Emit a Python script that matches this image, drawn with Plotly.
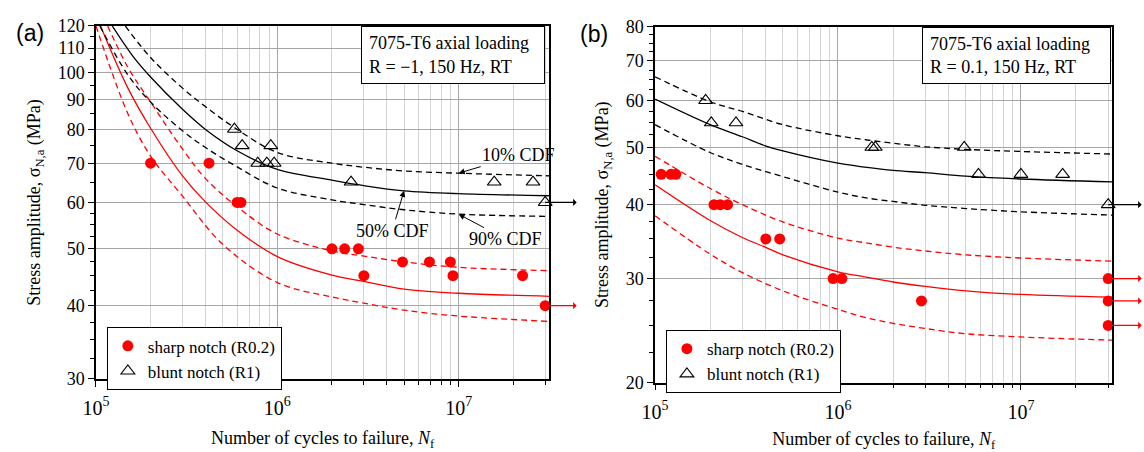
import numpy as np
import plotly.graph_objects as go

# ---------------- data: panel (a)  R = -1 ----------------
a_sharp_N = [2.0e5, 4.2e5, 6.0e5, 6.3e5, 2.0e6, 2.35e6, 2.8e6, 3.0e6, 4.9e6, 6.9e6, 9.0e6, 9.3e6, 2.25e7, 3.0e7]
a_sharp_S = [70, 70, 60, 60, 50, 50, 50, 45, 47.5, 47.5, 47.5, 45, 45, 40]
a_blunt_N = [5.8e5, 6.4e5, 7.8e5, 8.75e5, 9.2e5, 9.6e5, 2.55e6, 1.57e7, 2.57e7, 3.0e7]
a_blunt_S = [80, 75, 70, 70, 75, 70, 65, 65, 65, 60]
a_runout_sharp_S = [40]
a_runout_blunt_S = [60]

a_red50_N = [1.06e5, 1.5e5, 2e5, 3e5, 4e5, 6e5, 1e6, 2e6, 3e6, 5e6, 1e7, 3.2e7]
a_red50_S = [120, 94, 80.3, 66.6, 60.2, 53.8, 48.5, 45.1, 44.0, 42.7, 42.0, 41.5]
a_red10_N = [1.16e5, 1.5e5, 2e5, 3e5, 4e5, 6e5, 1e6, 2e6, 3e6, 5e6, 1e7, 3.2e7]
a_red10_S = [120, 102, 89, 74, 66, 59, 53.0, 49.6, 48.6, 47.5, 46.5, 45.9]
a_red90_N = [1.0e5, 1.5e5, 2e5, 3e5, 5e5, 1e6, 2e6, 3e6, 5e6, 1e7, 3.2e7]
a_red90_S = [120, 85, 72, 61.5, 50.9, 43.8, 41.4, 40.4, 39.3, 38.4, 37.6]

a_blk50_N = [1.23e5, 1.6e5, 2e5, 3e5, 4e5, 6e5, 1e6, 2e6, 3e6, 5e6, 1e7, 3.2e7]
a_blk50_S = [120, 106.5, 98.2, 86.5, 80.0, 73.5, 68.3, 65.5, 64.1, 62.8, 62.1, 61.6]
a_blk10_N = [1.45e5, 2e5, 3e5, 4e5, 5.8e5, 1e6, 2e6, 3e6, 5e6, 1e7, 3.2e7]
a_blk10_S = [120, 106, 94, 87.5, 80.5, 73.0, 70.0, 68.9, 67.9, 67.3, 66.6]
a_blk90_N = [1.05e5, 1.5e5, 2e5, 3e5, 4e5, 6e5, 1e6, 2e6, 3e6, 5e6, 1e7, 3.2e7]
a_blk90_S = [120, 99, 89, 79.5, 74.5, 69.0, 63.5, 60.6, 59.5, 58.3, 57.3, 56.8]

# ---------------- data: panel (b)  R = 0.1 ----------------
b_sharp_N = [1.08e5, 1.22e5, 1.30e5, 2.1e5, 2.27e5, 2.49e5, 4.03e5, 4.8e5, 9.4e5, 1.05e6, 2.86e6, 3e7, 3e7, 3e7]
b_sharp_S = [45, 45, 45, 40, 40, 40, 35, 35, 30, 30, 27.5, 30, 27.5, 25]
b_blunt_N = [1.89e5, 2.03e5, 2.77e5, 1.53e6, 1.6e6, 4.9e6, 5.86e6, 1.0e7, 1.69e7, 3e7]
b_blunt_S = [60, 55, 55, 50, 50, 50, 45, 45, 45, 40]
b_runout_sharp_S = [30, 27.5, 25]
b_runout_blunt_S = [40]

b_blk50_N = [1e5, 2e5, 3e5, 4e5, 5e5, 1e6, 1.4e6, 2e6, 3e6, 5e6, 1e7, 3.2e7]
b_blk50_S = [60.3, 54.6, 52.1, 50.3, 49.3, 47.0, 46.3, 45.7, 45.3, 44.7, 44.2, 43.7]
b_blk10_N = [1e5, 2e5, 3e5, 5e5, 1e6, 1.4e6, 2e6, 3e6, 5e6, 1e7, 3.2e7]
b_blk10_S = [65.8, 59.7, 57.5, 54.6, 52.3, 51.5, 50.8, 50.1, 49.6, 49.2, 48.7]
b_blk90_N = [1e5, 2e5, 3e5, 5e5, 1e6, 1.4e6, 2e6, 3e6, 5e6, 1e7, 3.2e7]
b_blk90_S = [54.6, 49.0, 46.8, 44.6, 42.0, 41.1, 40.5, 39.9, 39.4, 38.9, 38.4]
b_red50_N = [1e5, 2e5, 3e5, 4e5, 5e5, 1e6, 1.4e6, 2e6, 3e6, 5e6, 1e7, 3.2e7]
b_red50_S = [43.2, 37.6, 35.2, 33.9, 32.9, 30.8, 30.2, 29.6, 29.1, 28.6, 28.2, 27.9]
b_red10_N = [1e5, 2e5, 3e5, 5e5, 1e6, 1.4e6, 2e6, 3e6, 5e6, 1e7, 3.2e7]
b_red10_S = [48.3, 42.6, 40.0, 37.4, 35.1, 34.5, 33.9, 33.4, 32.9, 32.5, 32.1]
b_red90_N = [1e5, 2e5, 3e5, 5e5, 1e6, 1.4e6, 2e6, 3e6, 5e6, 1e7, 3.2e7]
b_red90_S = [38.3, 33.0, 30.7, 28.6, 26.6, 25.8, 25.2, 24.7, 24.2, 23.9, 23.6]

runout_N = 3e7

a_yticks = [30, 40, 50, 60, 70, 80, 90, 100, 110, 120]
a_yminor = [32.5, 35, 37.5, 42.5, 45, 47.5, 52.5, 55, 57.5, 65, 75, 85, 95, 105, 115]
b_yticks = [20, 30, 40, 50, 60, 70, 80]
b_yminor = [22.5, 25, 27.5, 32.5, 35, 37.5, 42.5, 45, 47.5, 52.5, 55, 57.5, 62.5, 65, 67.5, 72.5, 75, 77.5]

# ---------------- figure ----------------
W, H = 1144, 452
RED = '#ff0000'
SERIF = 'Liberation Serif, Times New Roman, serif'
DASH = '6px,4px'

fig = go.Figure()


def curve(N, S, color, dash, xa, ya):
    fig.add_trace(go.Scatter(x=N, y=S, mode='lines',
                             line=dict(color=color, width=1.3, dash=dash, shape='spline', smoothing=1.0),
                             xaxis=xa, yaxis=ya, showlegend=False, hoverinfo='skip'))


# panel a curves
curve(a_red10_N, a_red10_S, RED, DASH, 'x', 'y')
curve(a_red50_N, a_red50_S, RED, 'solid', 'x', 'y')
curve(a_red90_N, a_red90_S, RED, DASH, 'x', 'y')
curve(a_blk10_N, a_blk10_S, 'black', DASH, 'x', 'y')
curve(a_blk50_N, a_blk50_S, 'black', 'solid', 'x', 'y')
curve(a_blk90_N, a_blk90_S, 'black', DASH, 'x', 'y')
# panel b curves
curve(b_red10_N, b_red10_S, RED, DASH, 'x2', 'y2')
curve(b_red50_N, b_red50_S, RED, 'solid', 'x2', 'y2')
curve(b_red90_N, b_red90_S, RED, DASH, 'x2', 'y2')
curve(b_blk10_N, b_blk10_S, 'black', DASH, 'x2', 'y2')
curve(b_blk50_N, b_blk50_S, 'black', 'solid', 'x2', 'y2')
curve(b_blk90_N, b_blk90_S, 'black', DASH, 'x2', 'y2')

sharp_marker = dict(symbol='circle', size=11, color=RED, line=dict(width=0))
blunt_marker = dict(symbol='triangle-up-open', size=12, color='black', line=dict(width=1.1, color='black'))

fig.add_trace(go.Scatter(x=a_sharp_N, y=a_sharp_S, mode='markers', marker=sharp_marker,
                         name='sharp notch (R0.2)', xaxis='x', yaxis='y', cliponaxis=False, legend='legend'))
fig.add_trace(go.Scatter(x=a_blunt_N, y=a_blunt_S, mode='markers', marker=blunt_marker,
                         name='blunt notch (R1)', xaxis='x', yaxis='y', cliponaxis=False, legend='legend'))
fig.add_trace(go.Scatter(x=b_sharp_N, y=b_sharp_S, mode='markers', marker=sharp_marker,
                         name='sharp notch (R0.2)', xaxis='x2', yaxis='y2', cliponaxis=False, legend='legend2'))
fig.add_trace(go.Scatter(x=b_blunt_N, y=b_blunt_S, mode='markers', marker=blunt_marker,
                         name='blunt notch (R1)', xaxis='x2', yaxis='y2', cliponaxis=False, legend='legend2'))

# ---------------- axes ----------------
dom_ax = [83 / W, 542 / W]
dom_ay = [(H - 386) / H, (H - 16.7) / H]
dom_bx = [649 / W, 1112 / W]
dom_by = [(H - 390) / H, (H - 17.3) / H]

GRID = '#a6a6a6'
MINGRID = '#d4d4d4'


def xaxis(domain, anchor):
    return dict(type='log', range=[5, 7.5], domain=domain, anchor=anchor,
                showline=True, linecolor='black', linewidth=1.5, mirror=True,
                ticks='outside', ticklen=6, tickcolor='black', dtick=1,
                exponentformat='power', showexponent='all', ticklabelstandoff=5,
                tickfont=dict(family=SERIF, size=16, color='black'),
                showgrid=True, gridcolor=GRID, gridwidth=1, zeroline=False,
                minor=dict(dtick='D1', showgrid=True, gridcolor=MINGRID, gridwidth=1,
                           ticks='outside', ticklen=4, tickcolor='black'),
                title=dict(text='Number of cycles to failure, <i>N</i><sub>f</sub>',
                           font=dict(family=SERIF, size=18, color='black'), standoff=14))


def yaxis(domain, anchor, lo, hi, ticks, minor):
    return dict(type='log', range=[np.log10(lo), np.log10(hi)], domain=domain, anchor=anchor,
                showline=True, linecolor='black', linewidth=1.5, mirror=True,
                ticks='outside', ticklen=6, tickcolor='black',
                tickmode='array', tickvals=ticks, ticktext=[str(t) for t in ticks],
                tickfont=dict(family=SERIF, size=18, color='black'),
                showgrid=True, gridcolor=GRID, gridwidth=1, zeroline=False,
                minor=dict(tickmode='array', tickvals=minor, ticks='outside', ticklen=4,
                           tickcolor='black', showgrid=False),
                title=dict(text='Stress amplitude, σ<sub>N,a</sub> (MPa)',
                           font=dict(family=SERIF, size=18, color='black'), standoff=12))


def yright(overlay, anchor, lo, hi, ticks, minor):
    return dict(type='log', range=[np.log10(lo), np.log10(hi)], overlaying=overlay, side='right',
                anchor=anchor, showline=False, ticks='inside', ticklen=6, tickcolor='black',
                tickmode='array', tickvals=ticks, showticklabels=False, showgrid=False, zeroline=False,
                minor=dict(tickmode='array', tickvals=minor, ticks='inside', ticklen=4,
                           tickcolor='black', showgrid=False))


legend_common = dict(bordercolor='black', borderwidth=1, bgcolor='white',
                     font=dict(family=SERIF, size=17, color='black'),
                     xanchor='left', yanchor='top', tracegroupgap=0, itemwidth=30,
                     xref='paper', yref='paper')

fig.update_layout(
    width=W, height=H, autosize=False,
    margin=dict(l=0, r=0, t=0, b=0),
    paper_bgcolor='white', plot_bgcolor='white',
    font=dict(family=SERIF, color='black'),
    xaxis=xaxis(dom_ax, 'y'),
    yaxis=yaxis(dom_ay, 'x', 30, 120, a_yticks, a_yminor),
    xaxis2=xaxis(dom_bx, 'y2'),
    yaxis2=yaxis(dom_by, 'x2', 20, 80, b_yticks, b_yminor),
    yaxis3=yright('y', 'x', 30, 120, a_yticks, a_yminor),
    yaxis4=yright('y2', 'x2', 20, 80, b_yticks, b_yminor),
    legend=dict(x=94 / W, y=(H - 332) / H, **legend_common),
    legend2=dict(x=660 / W, y=(H - 335) / H, **legend_common),
    showlegend=True,
)

# ---------------- annotations ----------------
anns = []
# panel labels
anns.append(dict(text='(a)', xref='paper', yref='paper', x=0, y=(H - 24) / H, xanchor='left', yanchor='middle',
                 showarrow=False, font=dict(family='Liberation Sans, Arial, sans-serif', size=23, color='black')))
anns.append(dict(text='(b)', xref='paper', yref='paper', x=571 / W, y=(H - 25) / H, xanchor='left', yanchor='middle',
                 showarrow=False, font=dict(family='Liberation Sans, Arial, sans-serif', size=23, color='black')))
# condition boxes
anns.append(dict(text='7075-T6 axial loading<br>R = \u22121, 150 Hz, RT', xref='paper', yref='paper',
                 x=538 / W, y=(H - 16.7) / H, xanchor='right', yanchor='top', align='left', showarrow=False,
                 bordercolor='black', borderwidth=1, borderpad=7, bgcolor='white', width=168, height=42,
                 font=dict(family=SERIF, size=18, color='black')))
anns.append(dict(text='7075-T6 axial loading<br>R = 0.1, 150 Hz, RT', xref='paper', yref='paper',
                 x=1111 / W, y=(H - 17.3) / H, xanchor='right', yanchor='top', align='left', showarrow=False,
                 bordercolor='black', borderwidth=1, borderpad=7, bgcolor='white', width=173, height=41,
                 font=dict(family=SERIF, size=18, color='black')))

# CDF labels (panel a)
cdf_font = dict(family=SERIF, size=18, color='black')
anns.append(dict(text='10% CDF', xref='x', yref='y', x=np.log10(a_blk10_N[-2]), y=np.log10(a_blk10_S[-2]),
                 ax=60, ay=-18, showarrow=True, arrowhead=2, arrowsize=1.2, arrowwidth=1, arrowcolor='black',
                 font=cdf_font))
anns.append(dict(text='50% CDF', xref='x', yref='y', x=np.log10(a_blk50_N[-3]), y=np.log10(a_blk50_S[-3]),
                 ax=-12, ay=40, showarrow=True, arrowhead=2, arrowsize=1.2, arrowwidth=1, arrowcolor='black',
                 font=cdf_font))
anns.append(dict(text='90% CDF', xref='x', yref='y', x=np.log10(a_blk90_N[-2]), y=np.log10(a_blk90_S[-2]),
                 ax=47, ay=25, showarrow=True, arrowhead=2, arrowsize=1.2, arrowwidth=1, arrowcolor='black',
                 font=cdf_font))


def runout(xr, yr, S, color, length):
    anns.append(dict(text='', xref=xr, yref=yr, x=np.log10(runout_N), y=np.log10(S),
                     ax=length, ay=0, showarrow=True, arrowside='start', arrowhead=2, arrowsize=1.3,
                     arrowwidth=1.2, arrowcolor=color))


for s in a_runout_sharp_S:
    runout('x', 'y', s, RED, 33)
for s in a_runout_blunt_S:
    runout('x', 'y', s, 'black', 33)
for s in b_runout_sharp_S:
    runout('x2', 'y2', s, RED, 35)
for s in b_runout_blunt_S:
    runout('x2', 'y2', s, 'black', 35)

fig.update_layout(annotations=anns)

fig.write_html('out.html')
